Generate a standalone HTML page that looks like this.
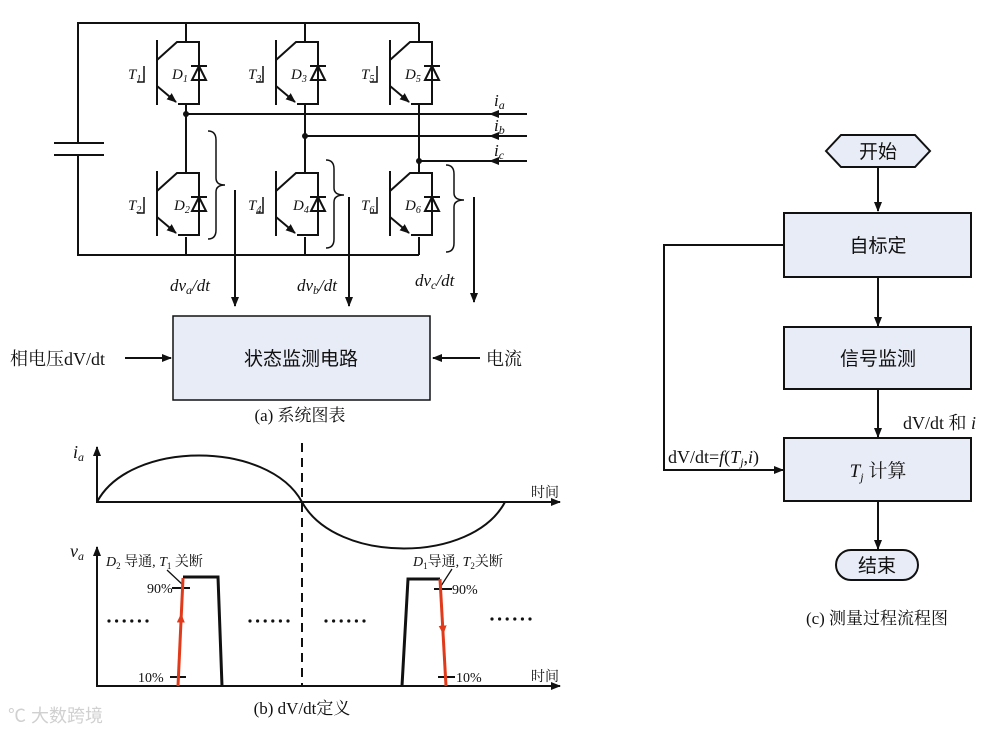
<!DOCTYPE html>
<html><head><meta charset="utf-8"><style>
body{margin:0;background:#fff}
svg{display:block}
text{font-family:"Liberation Serif","Noto Serif CJK SC","Noto Sans CJK SC",serif;fill:#111}
.s{font-family:"Liberation Sans","Noto Sans CJK SC",sans-serif}
</style></head><body>
<svg width="997" height="734" viewBox="0 0 997 734" xmlns="http://www.w3.org/2000/svg">
<defs>
<marker id="ar" markerWidth="10" markerHeight="8" refX="9" refY="4" orient="auto" markerUnits="userSpaceOnUse"><path d="M0,0 L10,4 L0,8 z" fill="#111"/></marker>
<marker id="arr" markerWidth="9" markerHeight="8" refX="4.5" refY="4" orient="auto" markerUnits="userSpaceOnUse"><path d="M0,0 L9,4 L0,8 z" fill="#e03a1a"/></marker>
<g id="igbt" fill="none" stroke="#111" stroke-width="2">
<line x1="-29" y1="-2" x2="-29" y2="63"/>
<polyline points="-29,18 -9,0 13,0 13,62 -8,62"/>
<line x1="-29" y1="44" x2="-10" y2="60" marker-end="url(#ar)"/>
<polygon points="6,38 20,38 13,24"/>
<line x1="5" y1="24" x2="21" y2="24"/>
<polyline points="-42,24 -42,40 -49,40" stroke-width="1.5"/>
</g>
<g id="dots" fill="#111"><circle cx="0" cy="0" r="1.6"/><circle cx="7.6" cy="0" r="1.6"/><circle cx="15.2" cy="0" r="1.6"/><circle cx="22.8" cy="0" r="1.6"/><circle cx="30.4" cy="0" r="1.6"/><circle cx="38" cy="0" r="1.6"/></g>
</defs>
<g fill="none" stroke="#111" stroke-width="2">
<polyline points="78,143 78,23 419,23"/>
<polyline points="78,155 78,255 419,255"/>
<line x1="54" y1="143" x2="104" y2="143"/><line x1="54" y1="155" x2="104" y2="155"/>
<line x1="186" y1="23" x2="186" y2="42"/><line x1="186" y1="104" x2="186" y2="173"/><line x1="186" y1="237" x2="186" y2="255"/>
<line x1="305" y1="23" x2="305" y2="42"/><line x1="305" y1="104" x2="305" y2="173"/><line x1="305" y1="237" x2="305" y2="255"/>
<line x1="419" y1="23" x2="419" y2="42"/><line x1="419" y1="104" x2="419" y2="173"/><line x1="419" y1="237" x2="419" y2="255"/>
<line x1="527" y1="114" x2="186" y2="114"/><line x1="527" y1="136" x2="305" y2="136"/><line x1="527" y1="161" x2="419" y2="161"/>
<line x1="527" y1="114" x2="490" y2="114" marker-end="url(#ar)"/>
<line x1="527" y1="136" x2="490" y2="136" marker-end="url(#ar)"/>
<line x1="527" y1="161" x2="490" y2="161" marker-end="url(#ar)"/>
<path d="M208,131 Q216,131 216,140 L216,178 Q216,185 225,185 Q216,185 216,192 L216,230 Q216,239 208,239" stroke-width="1.5"/>
<path d="M326,160 Q334,160 334,169 L334,188 Q334,195 344,195 Q334,195 334,202 L334,239 Q334,248 326,248" stroke-width="1.5"/>
<path d="M446,165 Q454,165 454,174 L454,193 Q454,200 464,200 Q454,200 454,207 L454,243 Q454,252 446,252" stroke-width="1.5"/>
<line x1="235" y1="190" x2="235" y2="306" marker-end="url(#ar)"/>
<line x1="349" y1="197" x2="349" y2="306" marker-end="url(#ar)"/>
<line x1="474" y1="197" x2="474" y2="302" marker-end="url(#ar)"/>
<line x1="125" y1="358" x2="171" y2="358" marker-end="url(#ar)"/>
<line x1="480" y1="358" x2="433" y2="358" marker-end="url(#ar)"/>
</g>
<circle cx="186" cy="114" r="3" fill="#111"/><circle cx="305" cy="136" r="3" fill="#111"/><circle cx="419" cy="161" r="3" fill="#111"/>
<use href="#igbt" x="186" y="42"/><use href="#igbt" x="305" y="42"/><use href="#igbt" x="419" y="42"/>
<use href="#igbt" x="186" y="173"/><use href="#igbt" x="305" y="173"/><use href="#igbt" x="419" y="173"/>
<g font-style="italic" font-size="15">
<text x="128" y="79">T<tspan font-size="10" dy="3">1</tspan></text>
<text x="248" y="79">T<tspan font-size="10" dy="3">3</tspan></text>
<text x="361" y="79">T<tspan font-size="10" dy="3">5</tspan></text>
<text x="128" y="210">T<tspan font-size="10" dy="3">2</tspan></text>
<text x="248" y="210">T<tspan font-size="10" dy="3">4</tspan></text>
<text x="361" y="210">T<tspan font-size="10" dy="3">6</tspan></text>
<text x="172" y="79">D<tspan font-size="10" dy="3">1</tspan></text>
<text x="291" y="79">D<tspan font-size="10" dy="3">3</tspan></text>
<text x="405" y="79">D<tspan font-size="10" dy="3">5</tspan></text>
<text x="174" y="210">D<tspan font-size="10" dy="3">2</tspan></text>
<text x="293" y="210">D<tspan font-size="10" dy="3">4</tspan></text>
<text x="405" y="210">D<tspan font-size="10" dy="3">6</tspan></text>
<text x="494" y="106" font-size="17">i<tspan font-size="12" dy="3">a</tspan></text>
<text x="494" y="131" font-size="17">i<tspan font-size="12" dy="3">b</tspan></text>
<text x="494" y="156" font-size="17">i<tspan font-size="12" dy="3">c</tspan></text>
<text x="170" y="291" font-size="17">dv<tspan font-size="12" dy="3">a</tspan><tspan dy="-3">/dt</tspan></text>
<text x="297" y="291" font-size="17">dv<tspan font-size="12" dy="3">b</tspan><tspan dy="-3">/dt</tspan></text>
<text x="415" y="286" font-size="17">dv<tspan font-size="12" dy="3">c</tspan><tspan dy="-3">/dt</tspan></text>
</g>
<rect x="173" y="316" width="257" height="84" fill="#e8ecf6" stroke="#111" stroke-width="1.5"/>
<text x="301" y="365" font-size="19" text-anchor="middle" class="s">状态监测电路</text>
<text x="10" y="365" font-size="18">相电压dV/dt</text>
<text x="486" y="365" font-size="18">电流</text>
<text x="300" y="421" font-size="17" text-anchor="middle">(a) 系统图表</text>

<g fill="none" stroke="#111" stroke-width="2">
<line x1="97" y1="503" x2="97" y2="447" marker-end="url(#ar)"/>
<line x1="97" y1="502" x2="560" y2="502" marker-end="url(#ar)"/>
<path d="M97,502 C130,440 268,440 302,502 C336,564 472,564 505,502"/>
<line x1="302" y1="443" x2="302" y2="686" stroke-dasharray="9,6"/>
<line x1="97" y1="687" x2="97" y2="547" marker-end="url(#ar)"/>
<line x1="97" y1="686" x2="560" y2="686" marker-end="url(#ar)"/>
<polyline points="183,577 218,577 222,686" stroke-width="3"/>
<polyline points="402,686 408,579 440,579" stroke-width="3"/>
<line x1="172" y1="588" x2="190" y2="588"/><line x1="170" y1="677" x2="186" y2="677"/>
<line x1="434" y1="589" x2="452" y2="589"/><line x1="438" y1="677" x2="455" y2="677"/>
<line x1="167" y1="570" x2="183" y2="585" stroke-width="1.3"/>
<line x1="452" y1="569" x2="441" y2="586" stroke-width="1.3"/>
</g>
<g stroke="#e03a1a" stroke-width="3" fill="none">
<line x1="178" y1="686" x2="183" y2="578"/>
<line x1="440" y1="579" x2="446" y2="686"/>
<line x1="180.5" y1="632" x2="181" y2="618" stroke-width="0.5" marker-end="url(#arr)"/>
<line x1="442" y1="618" x2="443" y2="630" stroke-width="0.5" marker-end="url(#arr)"/>
</g>
<use href="#dots" x="109" y="621"/><use href="#dots" x="250" y="621"/><use href="#dots" x="326" y="621"/><use href="#dots" x="492" y="619"/>
<text x="73" y="458" font-size="18" font-style="italic">i<tspan font-size="12" dy="3">a</tspan></text>
<text x="70" y="557" font-size="18" font-style="italic">v<tspan font-size="12" dy="3">a</tspan></text>
<text x="106" y="566" font-size="14"><tspan font-style="italic">D</tspan><tspan font-size="9" dy="3">2</tspan><tspan dy="-3"> 导通, </tspan><tspan font-style="italic">T</tspan><tspan font-size="9" dy="3">1</tspan><tspan dy="-3"> 关断</tspan></text>
<text x="413" y="566" font-size="14"><tspan font-style="italic">D</tspan><tspan font-size="9" dy="3">1</tspan><tspan dy="-3">导通, </tspan><tspan font-style="italic">T</tspan><tspan font-size="9" dy="3">2</tspan><tspan dy="-3">关断</tspan></text>
<text x="147" y="593" font-size="14">90%</text><text x="138" y="682" font-size="14">10%</text>
<text x="452" y="594" font-size="14">90%</text><text x="456" y="682" font-size="14">10%</text>
<text x="531" y="497" font-size="14">时间</text><text x="531" y="681" font-size="14">时间</text>
<text x="302" y="714" font-size="17" text-anchor="middle">(b) dV/dt定义</text>
<text x="8" y="722" font-size="18" style="fill:#d0d0d0" class="s">℃ 大数跨境</text>

<g fill="none" stroke="#111" stroke-width="2">
<polygon points="826,151 841,135 915,135 930,151 915,167 841,167" fill="#e8ecf6"/>
<line x1="878" y1="167" x2="878" y2="211" marker-end="url(#ar)"/>
<line x1="878" y1="277" x2="878" y2="326" marker-end="url(#ar)"/>
<line x1="878" y1="389" x2="878" y2="437" marker-end="url(#ar)"/>
<line x1="878" y1="501" x2="878" y2="549" marker-end="url(#ar)"/>
<polyline points="784,245 664,245 664,470 783,470" marker-end="url(#ar)"/>
<rect x="784" y="213" width="187" height="64" fill="#e8ecf6"/>
<rect x="784" y="327" width="187" height="62" fill="#e8ecf6"/>
<rect x="784" y="438" width="187" height="63" fill="#e8ecf6"/>
<rect x="836" y="550" width="82" height="30" rx="15" fill="#e8ecf6"/>
</g>
<g font-size="19" text-anchor="middle" class="s">
<text x="878" y="158" class="s">开始</text>
<text x="878" y="252" class="s">自标定</text>
<text x="878" y="365" class="s">信号监测</text>
<text x="878" y="477"><tspan font-style="italic" style="font-family:'Liberation Serif',serif">T</tspan><tspan font-size="12" dy="4" font-style="italic">j</tspan><tspan dy="-4"> 计算</tspan></text>
<text x="877" y="572" class="s">结束</text>
</g>
<text x="903" y="429" font-size="18">dV/dt 和 <tspan font-style="italic">i</tspan></text>
<text x="668" y="463" font-size="18">dV/dt=<tspan font-style="italic">f</tspan>(<tspan font-style="italic">T</tspan><tspan font-size="12" dy="3" font-style="italic">j</tspan><tspan dy="-3">,</tspan><tspan font-style="italic">i</tspan>)</text>
<text x="877" y="624" font-size="17" text-anchor="middle">(c) 测量过程流程图</text>
</svg>
</body></html>
